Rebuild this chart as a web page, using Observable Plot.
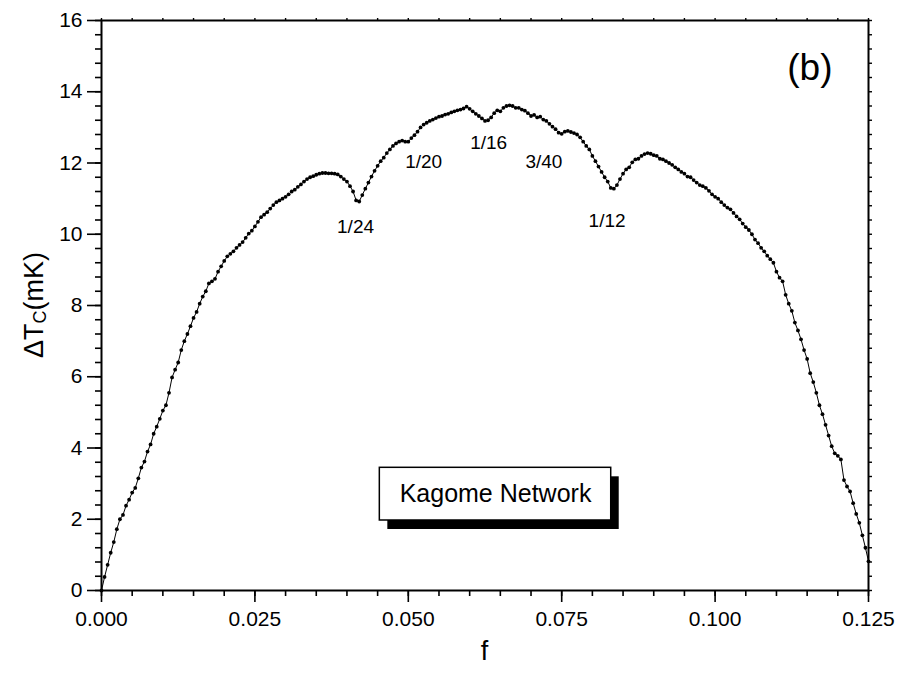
<!DOCTYPE html>
<html><head><meta charset="utf-8">
<script src="https://cdn.jsdelivr.net/npm/d3@7"></script>
<script src="https://cdn.jsdelivr.net/npm/@observablehq/plot@0.6"></script>
<style>
body{margin:0;background:#fff;}
#chart svg{display:block;font-family:"Liberation Sans",Arial,sans-serif;}
</style>
</head><body><div id="chart"></div>
<script>
// Measured ΔTc (mK) versus frustration f, sampled every 0.0005
const fStep = 0.0005;
const dTc = [
 0.00,0.38,0.72,1.06,1.36,1.72,2.00,2.12,2.38,2.55, 2.75,2.88,3.15,3.45,3.62,3.90,4.10,4.40,4.60,4.82,
 5.05,5.20,5.55,5.98,6.20,6.40,6.75,7.00,7.20,7.42, 7.65,7.82,8.05,8.25,8.40,8.62,8.68,8.75,8.95,9.10,
 9.25,9.38,9.45,9.52,9.62,9.70,9.78,9.90,10.02,10.10, 10.22,10.35,10.48,10.55,10.62,10.72,10.82,10.90,10.95,11.00,
 11.05,11.12,11.20,11.25,11.33,11.40,11.48,11.55,11.60,11.63, 11.67,11.70,11.72,11.72,11.71,11.71,11.70,11.68,11.62,11.55,
 11.48,11.35,11.20,10.95,10.92,11.10,11.28,11.45,11.62,11.78, 11.92,12.05,12.15,12.28,12.38,12.48,12.55,12.60,12.63,12.60,
 12.60,12.70,12.78,12.88,13.00,13.08,13.13,13.18,13.22,13.26, 13.30,13.32,13.36,13.38,13.42,13.45,13.48,13.50,13.53,13.58,
 13.52,13.45,13.38,13.32,13.25,13.18,13.20,13.28,13.40,13.48, 13.45,13.55,13.60,13.62,13.60,13.55,13.55,13.50,13.47,13.40,
 13.32,13.35,13.28,13.30,13.22,13.18,13.10,13.02,12.95,12.85, 12.82,12.88,12.90,12.87,12.84,12.80,12.72,12.60,12.48,12.38,
 12.20,12.05,11.90,11.75,11.60,11.48,11.30,11.28,11.38,11.55, 11.70,11.82,11.88,12.02,12.10,12.12,12.20,12.25,12.28,12.26,
 12.22,12.20,12.12,12.10,12.05,12.00,11.95,11.88,11.82,11.75, 11.70,11.62,11.60,11.52,11.45,11.38,11.35,11.30,11.22,11.12,
 11.05,11.00,10.90,10.82,10.75,10.70,10.60,10.50,10.42,10.30, 10.20,10.12,10.00,9.85,9.75,9.62,9.52,9.40,9.30,9.20,
 8.95,8.78,8.68,8.30,8.05,7.85,7.52,7.30,7.05,6.75, 6.50,6.10,5.85,5.55,5.20,4.95,4.65,4.35,4.05,3.85,
 3.78,3.68,3.10,2.92,2.78,2.45,2.15,1.90,1.55,1.20, 0.82
];
const fValues = dTc.map((_, i) => +(i * fStep).toFixed(4));

// Commensurate-field annotations
const annotLabels = ["1/24", "1/20", "1/16", "3/40", "1/12"];
const annotF      = [0.0414, 0.0525, 0.0631, 0.0721, 0.0824];
const annotY      = [10.22, 12.02, 12.56, 12.02, 10.38];

// Legend box (data coordinates)
const legendText = ["Kagome Network"];
const legendBox = {x1: 0.04536, x2: 0.08307, y1: 1.965, y2: 3.444};
const panelLabel = ["(b)"];

// Axis ticks
const xMajor = [0, 0.025, 0.05, 0.075, 0.1, 0.125];
const xMinor = d3.range(0, 26).map(i => i * 0.005);
const yMajor = [0, 2, 4, 6, 8, 10, 12, 14, 16];
const yMinor = d3.range(0, 41).map(i => i * 0.4);

const data = fValues.map((f, i) => ({f, t: dTc[i]}));
const annots = annotLabels.map((l, i) => ({l, f: annotF[i], y: annotY[i]}));

const W = 899, H = 673, mL = 101, mR = 31, mT = 20, mB = 83;
const font = "Liberation Sans, Arial, sans-serif";

const svg = Plot.plot({
  width: W, height: H,
  marginLeft: mL, marginRight: mR, marginTop: mT, marginBottom: mB,
  style: {fontFamily: font, fontSize: "21px", color: "black", background: "white"},
  x: {domain: [0, 0.125]},
  y: {domain: [0, 16]},
  marks: [
    Plot.axisX({ticks: xMinor, tickSize: 6, tickFormat: () => "", strokeWidth: 1.6}),
    Plot.axisX({ticks: xMajor, tickSize: 12, tickPadding: 9, tickFormat: d3.format(".3f"), fontSize: 21, strokeWidth: 1.6, label: null}),
    Plot.axisX({anchor: "top", ticks: xMinor, tickSize: 3, tickFormat: () => "", strokeWidth: 1.4, label: null}),
    Plot.axisY({ticks: yMinor, tickSize: 6, tickFormat: () => "", strokeWidth: 1.6, label: null}),
    Plot.axisY({ticks: yMajor, tickSize: 14, tickPadding: 5, fontSize: 21, strokeWidth: 1.6, label: null}),
    Plot.axisY({anchor: "right", ticks: yMinor, tickSize: 3, tickFormat: () => "", strokeWidth: 1.4, label: null}),
    Plot.frame({stroke: "black", strokeWidth: 2}),
    Plot.line(data, {x: "f", y: "t", stroke: "black", strokeWidth: 1}),
    Plot.dot(data, {x: "f", y: "t", r: 1.9, fill: "black", stroke: "none"}),
    Plot.text(annots, {x: "f", y: "y", text: "l", fontSize: 19, fill: "black", textAnchor: "middle", lineAnchor: "middle"}),
    Plot.rect([legendBox], {x1: "x1", x2: "x2", y1: "y1", y2: "y2", fill: "black", dx: 8, dy: 9}),
    Plot.rect([legendBox], {x1: "x1", x2: "x2", y1: "y1", y2: "y2", fill: "white", stroke: "black", strokeWidth: 1.5}),
    Plot.text(legendText, {x: (legendBox.x1 + legendBox.x2) / 2, y: (legendBox.y1 + legendBox.y2) / 2, text: d => d, fontSize: 25, fill: "black", lineAnchor: "middle"}),
    Plot.text(panelLabel, {frameAnchor: "top-right", text: d => d, dx: -36, dy: 33, fontSize: 37, fill: "black", textAnchor: "end", lineAnchor: "top"})
  ]
});

const s = d3.select(svg);
// make sure the tick labels use the reference's large size
s.selectAll('g[aria-label$="tick label"]').attr("font-size", 21).style("font-size", "21px");

// x-axis label
s.append("text")
  .attr("x", mL + (W - mL - mR) / 2).attr("y", H - 13)
  .attr("text-anchor", "middle").attr("font-size", 27).attr("font-family", font).attr("fill", "black")
  .text("f");
// y-axis label with subscript
const yl = s.append("text")
  .attr("transform", `translate(43,${mT + (H - mT - mB) / 2}) rotate(-90)`)
  .attr("text-anchor", "middle").attr("font-size", 27).attr("font-family", font).attr("fill", "black");
yl.append("tspan").text("\u0394T");
yl.append("tspan").attr("font-size", 18).attr("dy", 3).text("C");
yl.append("tspan").attr("dy", -3).text("(mK)");

document.getElementById("chart").appendChild(svg);
</script>
</body></html>
